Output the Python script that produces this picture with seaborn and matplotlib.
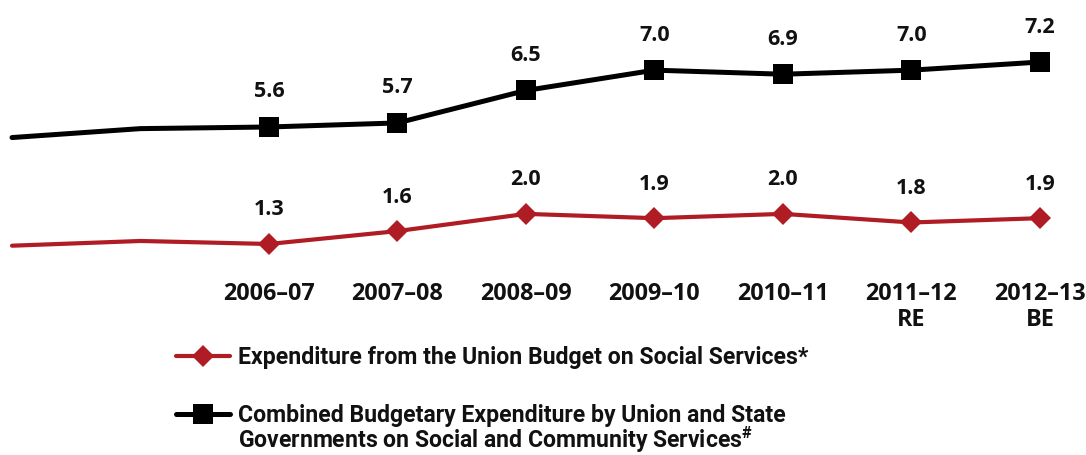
import matplotlib
matplotlib.use("Agg")
import matplotlib.pyplot as plt
import seaborn as sns
import pandas as pd

years = ["2004–05", "2005–06", "2006–07", "2007–08", "2008–09",
         "2009–10", "2010–11", "2011–12", "2012–13"]
tick_labels = ["", "", "2006–07", "2007–08", "2008–09", "2009–10",
               "2010–11", "2011–12\nRE", "2012–13\nBE"]
combined = [5.34, 5.56, 5.6, 5.7, 6.5, 7.0, 6.9, 7.0, 7.2]
union = [1.26, 1.37, 1.3, 1.6, 2.0, 1.9, 2.0, 1.8, 1.9]
labelled_from = 2

label_union = "Expenditure from the Union Budget on Social Services*"
label_combined_1 = "Combined Budgetary Expenditure by Union and State"
label_combined_2 = "Governments on Social and Community Services$^{\\#}$"

RED = "#B01C24"
BLACK = "#000000"
TEXT = "#111111"

sns.set_theme(style="white")
plt.rcParams["font.family"] = ["Open Sans", "DejaVu Sans"]
plt.rcParams["mathtext.fontset"] = "custom"
plt.rcParams["mathtext.rm"] = "Roboto:bold"
plt.rcParams["mathtext.it"] = "Roboto:bold"
plt.rcParams["mathtext.bf"] = "Roboto:bold"

df = pd.DataFrame({"year": years, "combined": combined, "union": union})

W, H = 1086, 455
fig = plt.figure(figsize=(W / 100, H / 100), dpi=100)
ax_bottom_px = 275
ax = fig.add_axes([0, 1 - ax_bottom_px / H, 1, ax_bottom_px / H])
ax2 = ax.twinx()

mk = list(range(labelled_from, len(years)))
sns.lineplot(data=df, x="year", y="combined", ax=ax, color=BLACK, lw=3.6,
             marker="s", markersize=14, markevery=mk, markeredgewidth=0,
             legend=False)
sns.lineplot(data=df, x="year", y="union", ax=ax2, color=RED, lw=3.0,
             marker="D", markersize=11.5, markevery=mk, markeredgewidth=0,
             legend=False)

ax.set_xlim(-12 / 128.33, 8 + 46 / 128.33)
ax.set_ylim(8.728 - ax_bottom_px / 40.6, 8.728)
ax2.set_ylim(6.974 - ax_bottom_px / 43.0, 6.974)

for a in (ax, ax2):
    a.set_ylabel("")
    a.set_yticks([])
    for s in a.spines.values():
        s.set_visible(False)
ax.set_xlabel("")
ax.set_xticks(range(len(years)))
ax.set_xticklabels(tick_labels, fontsize=16.8, fontweight="bold", color=TEXT,
                   linespacing=1.1)
ax.tick_params(axis="x", length=0, pad=5)

for i in range(labelled_from, len(years)):
    ax.annotate(f"{combined[i]:.1f}", (i, combined[i]), xytext=(0, 35),
                textcoords="offset pixels", ha="center", va="center",
                fontsize=15.5, fontweight="bold", color=TEXT)
    ax2.annotate(f"{union[i]:.1f}", (i, union[i]), xytext=(0, 34),
                 textcoords="offset pixels", ha="center", va="center",
                 fontsize=15.5, fontweight="bold", color=TEXT)

leg_font = {"family": ["Roboto", "DejaVu Sans"], "weight": "bold", "size": 16.6}
handles = [ax2.get_lines()[0], ax.get_lines()[0]]
leg = fig.legend(handles, [label_union, label_combined_1], loc="upper left",
                 bbox_to_anchor=(176 / W, 1 - 346 / H), frameon=False,
                 borderpad=0, borderaxespad=0, handlelength=2.35,
                 handletextpad=0.35, labelspacing=1.5, prop=leg_font)
for t in leg.get_texts():
    t.set_color(TEXT)

fig.canvas.draw()
bb = leg.get_texts()[1].get_window_extent()
fig.text(bb.x0 / W, 1 - 448 / H, label_combined_2, ha="left", va="baseline",
         color=TEXT, **{"family": leg_font["family"], "weight": "bold",
                        "size": leg_font["size"]})

fig.savefig("out.png", dpi=100)
